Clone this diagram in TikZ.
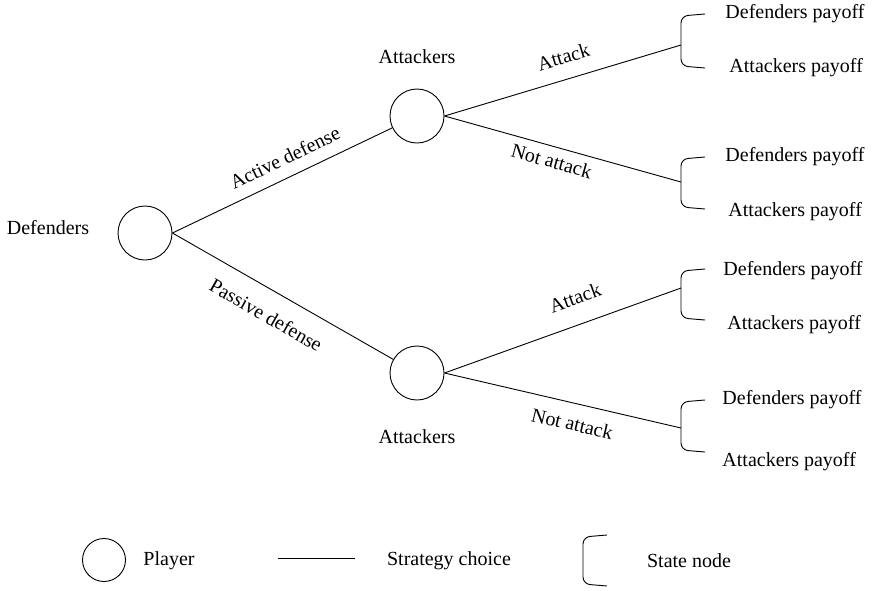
\documentclass[tikz,border=0pt]{standalone}
\usepackage{fontspec}
\setmainfont{Liberation Serif}
\begin{document}
\begin{tikzpicture}[x=1pt,y=-1pt,
  font=\fontsize{20}{23}\selectfont,
  every path/.style={line width=0.9pt},
  player/.style={draw,circle,minimum size=54pt,inner sep=0pt},
  legplayer/.style={draw,circle,minimum size=43pt,inner sep=0pt},
  txt/.style={inner sep=0pt},
  payoff/.style={inner sep=0pt,anchor=west},
  edgelabel/.style={sloped,inner sep=0pt},
  statebr/.style={rounded corners=7pt}]
\useasboundingbox (0,0) rectangle (878,590);

% players
\node[player] (d)  at (145,233) {};
\node[player] (a1) at (417,116) {};
\node[player] (a2) at (417,373) {};
\node[txt] (dl)  at (48,228) {Defenders};
\node[txt] (a1l) at (417,57) {Attackers};
\node[txt] (a2l) at (417,437) {Attackers};

% state nodes (bracket tips)
\coordinate (s1) at (681,45);
\coordinate (s2) at (681,182);
\coordinate (s3) at (681,288);
\coordinate (s4) at (681,428);

% brackets
\draw[statebr] (705,14)  -- (681,16)  -- (681,66)  -- (705,68);
\draw[statebr] (705,157) -- (681,159) -- (681,207) -- (705,209);
\draw[statebr] (705,269) -- (681,271) -- (681,318) -- (705,320);
\draw[statebr] (705,400) -- (681,402) -- (681,450) -- (705,452);

% payoffs
\node[payoff] (p1d) at (725,14)  {Defenders payoff};
\node[payoff] (p1a) at (729,68)  {Attackers payoff};
\node[payoff] (p2d) at (725,157) {Defenders payoff};
\node[payoff] (p2a) at (728,212) {Attackers payoff};
\node[payoff] (p3d) at (723,271) {Defenders payoff};
\node[payoff] (p3a) at (727,325) {Attackers payoff};
\node[payoff] (p4d) at (722,400) {Defenders payoff};
\node[payoff] (p4a) at (722,462) {Attackers payoff};

% strategy choices
\draw (d.east) -- (a1) node[edgelabel,pos=0.55,above=12pt] {Active defense};
\draw (d.east) -- (a2) node[edgelabel,pos=0.48,below=17pt] {Passive defense};
\draw (a1.east) -- (s1) node[edgelabel,pos=0.53,above=15pt] {Attack};
\draw (a1.east) -- (s2) node[edgelabel,pos=0.47,below=7pt] {Not attack};
\draw (a2.east) -- (s3) node[edgelabel,pos=0.59,above=19pt] {Attack};
\draw (a2.east) -- (s4) node[edgelabel,pos=0.56,below=13pt] {Not attack};

% legend
\node[legplayer] (lp) at (104,560) {};
\node[txt] (lpt) at (169,561) {Player};
\coordinate (ls1) at (278,558);
\coordinate (ls2) at (355,558);
\draw (ls1) -- (ls2);
\node[txt] (lst) at (449,561) {Strategy choice};
\draw[statebr] (607,535) -- (583,537) -- (583,584) -- (607,586);
\node[txt] (lbt) at (689,561) {State node};
\end{tikzpicture}
\end{document}
